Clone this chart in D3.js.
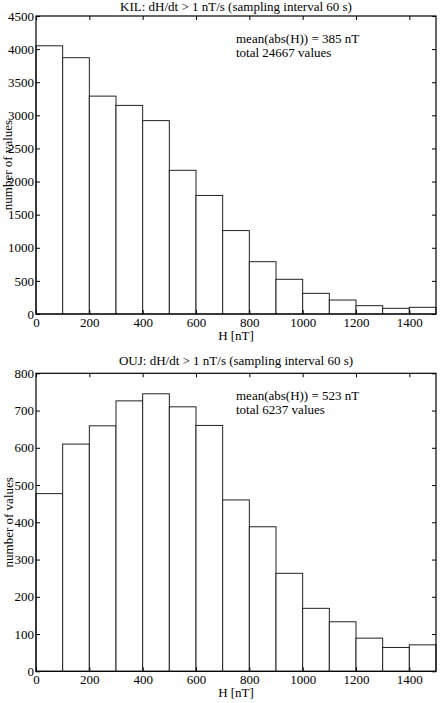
<!DOCTYPE html>
<html><head><meta charset="utf-8">
<script src="https://cdn.jsdelivr.net/npm/d3@7"></script>
<style>body{margin:0;background:#fff}svg{display:block}text{font-family:"Liberation Serif","Times New Roman",serif;fill:#000}</style>
</head><body><svg id="c" width="443" height="703"></svg>
<script>
const binEdges = [0,100,200,300,400,500,600,700,800,900,1000,1100,1200,1300,1400,1500];
const kilCounts = [4050,3870,3290,3150,2920,2170,1790,1260,790,524,312,211,126,86,101];
const oujCounts = [477,610,659,726,745,710,660,460,388,263,169,133,89,64,71];
const xTicks = [0,200,400,600,800,1000,1200,1400];
const kilYTicks = [0,500,1000,1500,2000,2500,3000,3500,4000,4500];
const oujYTicks = [0,100,200,300,400,500,600,700,800];
const titles = ["KIL: dH/dt > 1 nT/s (sampling interval 60 s)","OUJ: dH/dt > 1 nT/s (sampling interval 60 s)"];
const notes = [["mean(abs(H)) = 385 nT","total 24667 values"],["mean(abs(H)) = 523 nT","total 6237 values"]];

const svg = d3.select("#c");
const L = 36, R = 436;

function panel(counts, yTicks, yMax, top, bottom, title, note, titleY, ylabX){
  const g = svg.append("g");
  const x = d3.scaleLinear().domain([0,1500]).range([L,R]);
  const y = d3.scaleLinear().domain([0,yMax]).range([bottom,top]);
  const bins = counts.map((c,i)=>({x0:binEdges[i],x1:binEdges[i+1],c}));
  g.selectAll("rect.bar").data(bins).enter().append("rect")
    .attr("x",d=>x(d.x0)).attr("width",d=>x(d.x1)-x(d.x0))
    .attr("y",d=>y(d.c)).attr("height",d=>y(0)-y(d.c))
    .attr("fill","#fff").attr("stroke","#222").attr("stroke-width",1);
  g.append("rect").attr("x",L).attr("y",top).attr("width",R-L).attr("height",bottom-top)
    .attr("fill","none").attr("stroke","#000").attr("stroke-width",1.2);
  const tl = 4;
  const xb = d3.axisBottom(x).tickValues(xTicks).tickSize(-tl).tickFormat(d3.format("d"));
  const gx = g.append("g").attr("transform",`translate(0,${bottom})`).call(xb);
  const xt = d3.axisTop(x).tickValues(xTicks).tickSize(-tl).tickFormat("");
  const gxt = g.append("g").attr("transform",`translate(0,${top})`).call(xt);
  const yl = d3.axisLeft(y).tickValues(yTicks).tickSize(-tl).tickPadding(2).tickFormat(d3.format("d"));
  const gy = g.append("g").attr("transform",`translate(${L},0)`).call(yl);
  const yr = d3.axisRight(y).tickValues(yTicks).tickSize(-tl).tickFormat("");
  const gyr = g.append("g").attr("transform",`translate(${R},0)`).call(yr);
  [gx,gxt,gy,gyr].forEach(a=>{a.select(".domain").remove();a.selectAll("line").attr("stroke","#000");
    a.selectAll("text").style("font-family",'"Liberation Serif",serif').style("font-size","13px").attr("fill","#000");});
  gx.selectAll("text").attr("dy","0").attr("y",13);
  g.append("text").attr("x",(L+R)/2).attr("y",bottom+26).attr("text-anchor","middle").style("font-size","13px").text("H [nT]");
  g.append("text").attr("x",(L+R)/2).attr("y",titleY).attr("text-anchor","middle").style("font-size","13px").text(title);
  g.append("text").attr("transform",`translate(${ylabX},${(top+bottom)/2}) rotate(-90)`).attr("text-anchor","middle").style("font-size","13px").text("number of values");
  note.forEach((t,i)=>g.append("text").attr("x",236).attr("y",top+27+i*14).style("font-size","13px").text(t));
}
panel(kilCounts,kilYTicks,4500,16,314,titles[0],notes[0],11,12);
panel(oujCounts,oujYTicks,800,373.3,671.3,titles[1],notes[1],365,13);
</script></body></html>
